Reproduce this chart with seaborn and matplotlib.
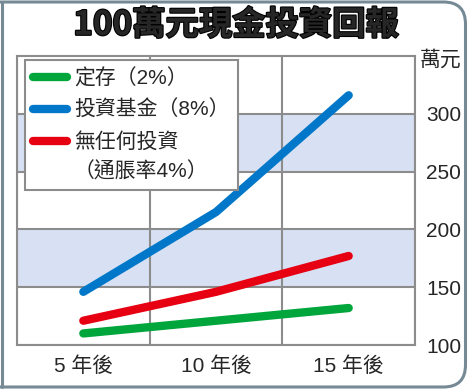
import matplotlib
matplotlib.use('Agg')
import matplotlib.pyplot as plt
import matplotlib.patheffects as pe
import seaborn as sns
import pandas as pd
import numpy as np
from matplotlib.patches import FancyBboxPatch
from matplotlib.lines import Line2D

# data (萬元)
years = ['5 年後', '10 年後', '15 年後']
deposit = [110, 121, 132]        # 定存(2%)
fund = [146, 215, 316]           # 投資基金(8%)
cash = [121, 146, 177]           # 無任何投資(通脹率4%)
series_names = ['定存（2%）', '投資基金（8%）', '無任何投資\n（通脹率4%）']
series_colors = ['#00a63c', '#0077c8', '#e60012']
y_ticks = [100, 150, 200, 250, 300]
bands = [(150, 200), (250, 300)]

sns.set_style('white')
plt.rcParams['font.family'] = ['Liberation Sans', 'Noto Sans CJK TC', 'DejaVu Sans']

df = pd.DataFrame({
    'pos': np.tile(np.arange(len(years)), 3),
    'value': deposit + fund + cash,
    'series': np.repeat(series_names, len(years)),
})

fig = plt.figure(figsize=(4.68, 3.89), dpi=100)
ax = fig.add_axes([0.0363, 0.1131, 0.8505, 0.743])

grid_c = '#8c8c8c'
for lo, hi in bands:
    ax.axhspan(lo, hi, color='#d8e1f3', zorder=0, lw=0)

sns.lineplot(data=df, x='pos', y='value', hue='series', hue_order=series_names,
             palette=dict(zip(series_names, series_colors)), lw=6,
             solid_capstyle='round', ax=ax, zorder=3)

ax.set_xlim(-0.5, len(years) - 0.5)
ax.set_ylim(100, 350)
ax.set_xticks(np.arange(len(years)))
ax.set_xticklabels(years, fontsize=15)
ax.set_xticks(np.arange(len(years) + 1) - 0.5, minor=True)
ax.set_yticks(y_ticks)
ax.set_yticklabels([str(v) for v in y_ticks], fontsize=15)
ax.yaxis.tick_right()
ax.tick_params(axis='both', which='both', length=0)
ax.tick_params(axis='x', pad=8)
ax.tick_params(axis='y', pad=8)
ax.grid(True, axis='y', color=grid_c, lw=1.5)
ax.grid(True, axis='x', which='minor', color=grid_c, lw=1.5)
ax.set_axisbelow(True)
for s in ax.spines.values():
    s.set_color(grid_c)
    s.set_linewidth(1.5)
ax.set_xlabel('')
ax.set_ylabel('')

handles, labels = ax.get_legend_handles_labels()
leg = ax.legend(handles, labels, loc='upper left', bbox_to_anchor=(0.02, 0.986),
                borderaxespad=0, fontsize=15, handlelength=1.6, handletextpad=0.35,
                labelspacing=0.55, fancybox=False, framealpha=1, edgecolor=grid_c,
                borderpad=0.4)
leg.get_frame().set_linewidth(1.5)
leg.set_zorder(5)
for h in leg.get_lines():
    h.set_linewidth(6)
    h.set_solid_capstyle('round')
for t in leg.get_texts():
    t.set_linespacing(1.6)
# the two-line entry keeps its marker on the first line
last = leg.get_lines()[-1]
last.set_ydata(np.asarray(last.get_ydata()) + 11)

fig.text(0.897, 0.845, '萬元', fontsize=15, ha='left', va='center')
fig.text(0.505, 0.935, '100萬元現金投資回報', fontsize=24, fontweight='heavy',
         family=['Noto Sans CJK TC'], ha='center', va='center',
         path_effects=[pe.withStroke(linewidth=1.6, foreground='black')])

# outer frame with rounded right corners
border = '#768a96'
frame = FancyBboxPatch((-0.5, 0.02), 5.155, 3.85, boxstyle='round,pad=0,rounding_size=0.22',
                       transform=fig.dpi_scale_trans, fill=False, ec=border, lw=2.2)
fig.patches.append(frame)
fig.lines.append(Line2D([0.015, 0.015], [0.02, 3.87], transform=fig.dpi_scale_trans,
                        color=border, lw=2.2))

fig.savefig('out.png', dpi=100)
